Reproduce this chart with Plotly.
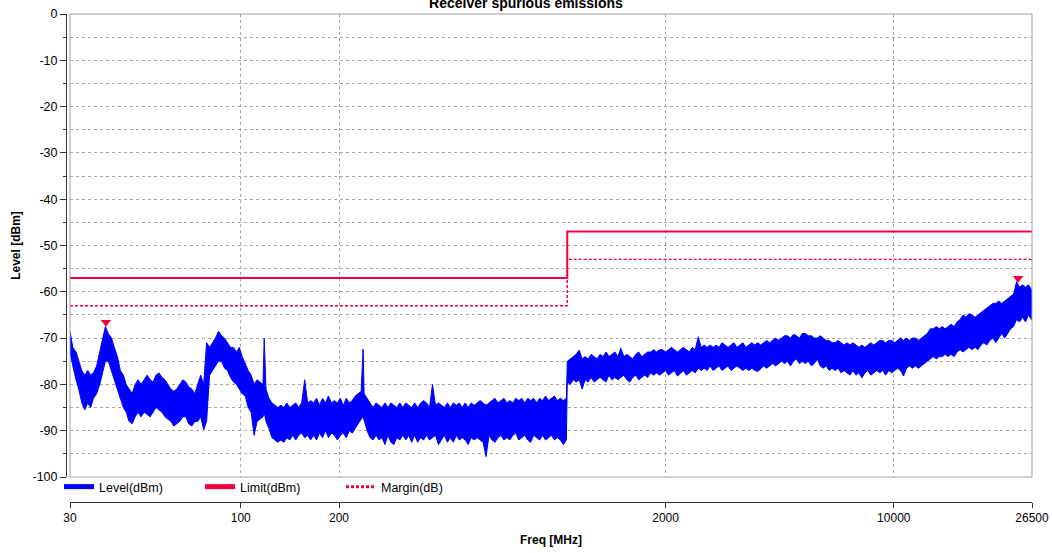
import math
import plotly.graph_objects as go

# ---------------- data ----------------
# Spectrum shown as max / min level per display bin (dBm)
freq_a = [30, 30.6, 31.3, 31.9, 32.6, 33.3, 34, 34.7, 35.4, 36.2,
          37, 37.7, 38.5, 39.3, 40.2, 41, 41.9, 42.8, 43.7, 44.6,
          45.5, 46.5, 47.5, 48.5, 49.5, 50.6, 51.7, 52.8, 53.9, 55,
          56.2, 57.4, 58.6, 59.8, 61.1, 62.4, 63.7, 65.1, 66.5, 67.9,
          69.3, 70.8, 72.3, 73.8, 75.4, 77, 78.6, 80.3, 82, 83.7,
          85.5, 87.3, 89.2, 91.1, 93, 95, 97, 99]
max_a = [-68.5, -72, -73, -75, -77, -78, -77, -78, -77.5, -76,
         -73, -71, -67.5, -69, -70, -72, -74, -77, -78, -80,
         -81, -82, -80, -79, -80, -79, -78, -79, -79.5, -78,
         -77.5, -78.5, -79, -80, -81, -81.5, -81, -80, -79, -79.5,
         -80.5, -81, -82, -80, -78, -80, -71, -72, -71, -70,
         -68.5, -69.5, -70, -71, -72, -72, -73, -72]
min_a = [-73, -76, -79, -81, -84, -85.5, -84, -85, -83, -82,
         -80, -78, -75, -75, -77, -79, -81, -83, -85, -86,
         -88, -88.5, -87, -86, -87, -86, -86.5, -87, -86, -85,
         -85.5, -86, -87, -87.5, -88, -89, -88.5, -88, -87, -87,
         -88.5, -89, -88, -88, -87, -89.8, -88, -78, -77, -76,
         -75, -75, -76.5, -77, -78.5, -79.5, -80, -81]

freq_b = [101, 103.2, 105.4, 107.6, 109.9, 112.2, 114.6, 117, 118, 119.5,
          122, 124.6, 127.3, 130, 132.7, 135.5, 138.4, 141.3, 144.3, 147.4,
          150.5, 153.7, 157, 160.3, 163.7, 167.2, 170.7, 174.3, 178, 181.8,
          185.6, 189.6, 193.6, 197.7, 201.9, 206.2, 210.5, 215, 219.5, 224.2,
          228.9, 233.8, 237, 238.7, 243.8, 249, 254.2, 259.6, 265.1, 270.7,
          276.5, 282.3, 288.3, 294.4, 300.6, 307, 313.5, 320.2, 327, 333.9,
          341, 348.2, 355.6, 363.1, 370.8, 378.6, 386.6, 394.8, 403.2, 411.7,
          420.5, 429.4, 438.5, 447.8, 457.3, 467, 476.9, 487, 497.3, 507.8,
          518.6, 529.6, 540.8, 552.3, 564, 575.9, 588.1, 600.6, 613.3, 626.3,
          639.6, 653.2, 667, 681.2, 695.6, 710.3, 725.4, 740.8, 756.5, 772.5,
          788.9, 805.6, 822.7, 840.1, 857.9, 876.1, 894.7, 913.6, 933, 952.8,
          973, 993.6]
max_b = [-74, -75.5, -77, -78, -80, -79, -79.5, -80, -70, -81,
         -83, -84, -84.5, -85, -84.5, -85, -84, -85, -84.5, -84,
         -85, -84, -79, -84, -83.5, -84, -83, -84.5, -83, -84,
         -82.5, -84, -83.5, -84, -83, -84.5, -83, -84, -83.5, -82.5,
         -82, -81.5, -72.4, -82, -83, -84, -85, -84, -84.5, -85,
         -84, -85, -84, -84.5, -85, -84, -85, -84, -84.5, -85,
         -84, -85, -84, -83.5, -84, -85, -80, -84.5, -84, -84.5,
         -85, -84, -85, -84, -84.5, -84, -85, -84, -85, -84,
         -84.5, -84, -83.5, -84, -84.5, -84, -83.5, -83, -84, -83.5,
         -83, -84, -83.5, -84, -83, -83.5, -83, -84, -83, -83.5,
         -83, -84, -83, -83.5, -82.5, -83.5, -83, -82.5, -83.5, -83,
         -83.5, -83]
min_b = [-82, -82.5, -85, -86, -91, -88, -87.5, -87, -86, -88,
         -89.5, -91.5, -92, -92.5, -92, -92.5, -91.5, -92, -91, -92,
         -91, -90.5, -91.5, -91, -92, -91, -92, -90.5, -91.5, -90,
         -91.5, -90.5, -91, -92, -91, -90.5, -91.5, -90, -90.5, -89.5,
         -88.5, -87.5, -87, -88, -90, -91.5, -92, -91, -92, -91.5,
         -93, -91, -92.5, -93, -91.5, -92, -91, -92, -91, -92.5,
         -91, -92.5, -91.5, -92, -91, -92, -91.5, -91, -93, -92,
         -91, -92.5, -91.5, -92.5, -91, -92, -91.5, -92, -93, -91.5,
         -92, -91.5, -92, -92.5, -95.6, -91, -92, -92.5, -91.5, -91,
         -92, -91.5, -92, -91, -90.5, -92, -91.5, -91, -92, -92.5,
         -91, -91.5, -92, -91, -92, -91.5, -91, -92, -91.5, -92,
         -93, -92]

freq_c = [1000, 1021, 1043, 1065, 1088, 1111, 1134, 1158, 1183, 1208,
          1234, 1260, 1287, 1314, 1342, 1370, 1399, 1429, 1459, 1490,
          1522, 1554, 1587, 1621, 1655, 1690, 1726, 1763, 1800, 1838,
          1877, 1917, 1958, 2000, 2042, 2085, 2130, 2175, 2221, 2268,
          2316, 2365, 2415, 2466, 2519, 2572, 2627, 2682, 2739, 2797,
          2857, 2917, 2979, 3042, 3107, 3173, 3240, 3308, 3379, 3450,
          3523, 3598, 3674, 3752, 3832, 3913, 3996, 4081, 4167, 4256,
          4346, 4438, 4532, 4628, 4726, 4826, 4929]
max_c = [-75, -74.5, -74, -73.5, -72.6, -74.5, -74, -74.5, -73.5, -74,
         -74.5, -73.5, -74, -73, -74, -73.5, -73, -74, -72.2, -74,
         -73.5, -74, -74.5, -73.5, -73, -74, -73.5, -73, -73, -72.5,
         -73, -72.5, -72.5, -73, -72.5, -72, -72.5, -73, -72.5, -72,
         -72.5, -73, -72, -72.5, -69.7, -72, -71.5, -72, -71.5, -72,
         -71.5, -72, -71, -71.5, -72, -71.5, -71, -72, -71.5, -71,
         -72, -71.5, -71, -71.5, -71, -71.5, -71, -70.5, -71, -70.5,
         -70, -70.5, -70, -69.5, -69.5, -70, -69.2]
min_c = [-79.5, -80, -79, -79.5, -79, -81, -79, -79.5, -78.5, -79.5,
         -79, -78.5, -79, -79.5, -78, -79, -78.5, -79, -78.5, -78,
         -79, -79.5, -78.5, -78, -79, -78.5, -78, -78.5, -77.5, -78,
         -77.5, -78, -77.5, -77, -78, -77.5, -77, -78.2, -77.5, -77,
         -78, -77.5, -77, -77.5, -76.5, -77, -76.5, -77, -76, -77,
         -76.5, -76, -77, -76.5, -76, -77, -76.5, -76, -76.5, -77,
         -76.5, -77, -76.5, -77, -77.2, -76.5, -76, -76.5, -76, -75.5,
         -76, -75.5, -75, -75.5, -75, -76, -75]

freq_d = [5033, 5140, 5249, 5360, 5474, 5590, 5709, 5830, 5953, 6079,
          6208, 6340, 6475, 6612, 6752, 6895, 7041, 7190, 7343, 7498,
          7657, 7820, 7986, 8155, 8328, 8504, 8685, 8869, 9057, 9249,
          9445, 9645, 9849, 10058, 10271, 10489, 10711, 10938, 11170, 11407,
          11649, 11896, 12148, 12406, 12669, 12937, 13212, 13492, 13778, 14070,
          14368, 14673, 14984, 15302, 15626, 15957, 16296, 16641, 16994, 17354,
          17722, 18098, 18482, 18874, 19274, 19682, 20100, 20526, 20961, 21405,
          21859, 22323, 22796, 23279, 23773, 24277, 24791, 25317, 25853, 26400,
          26500]
max_d = [-69.5, -70, -69, -69, -69.5, -69.5, -70, -70, -69.5, -70,
         -70.5, -70.5, -71, -71, -70.5, -71, -71.5, -71, -71.5, -71,
         -71.5, -72, -71.5, -72, -71.5, -71, -71.5, -71, -70.5, -70.5,
         -71, -70.5, -70.5, -71, -70.5, -70, -70.5, -70, -70.5, -70,
         -70, -70.5, -70, -69.5, -69, -68, -68, -67.5, -68, -67.5,
         -68, -67.5, -67, -67.5, -66.5, -66, -65, -65.5, -64.7, -65,
         -65.5, -65, -64.5, -64, -63.5, -63, -62.5, -62.5, -62, -62.5,
         -62, -61.5, -61, -60.5, -57.8, -59, -58.5, -59, -58.5, -59.5,
         -60]
min_d = [-74.5, -75.5, -75, -75.5, -75, -76, -75.5, -74.5, -76, -76.5,
         -76, -77, -76.5, -77, -76.5, -77.5, -77, -77.5, -78, -77,
         -78, -77.5, -78.6, -77.5, -77, -78, -77.5, -77, -77.5, -77,
         -78, -77, -77.5, -77, -76.5, -77, -78.2, -76.5, -76, -76.5,
         -76, -76.5, -76, -75.5, -75, -74.5, -74, -74.5, -74, -74,
         -73.5, -74, -73.5, -74, -73, -72.5, -73, -72.5, -72, -72.5,
         -72, -72.5, -71.5, -71, -71.5, -70.5, -70, -71, -70, -69,
         -70, -69, -68, -67.5, -66, -66.5, -65.5, -66.5, -65, -66,
         -66]

limit_freq = [30, 1000, 1000, 26500]
limit_level = [-57, -57, -47, -47]
margin_level = [-63, -63, -53, -53]

peak_freq = [38.65, 24030]
peak_level = [-66.6, -57.1]

legend_names = ["Level(dBm)", "Limit(dBm)", "Margin(dB)"]

x_tick_vals = [30, 100, 200, 2000, 10000, 26500]
x_tick_text = ["30", "100", "200", "2000", "10000", "26500"]
y_tick_vals = [0, -10, -20, -30, -40, -50, -60, -70, -80, -90, -100]
y_tick_text = ["0", "-10", "-20", "-30", "-40", "-50", "-60", "-70", "-80", "-90", "-100"]

for f_list, hi_list, lo_list in ((freq_a, max_a, min_a), (freq_b, max_b, min_b),
                                 (freq_c, max_c, min_c), (freq_d, max_d, min_d)):
    assert len(f_list) == len(hi_list) == len(lo_list), (len(f_list), len(hi_list), len(lo_list))

freq = freq_a + freq_b + freq_c + freq_d
level_max = max_a + max_b + max_c + max_d
level_min = min_a + min_b + min_c + min_d

# ---------------- figure ----------------
BLUE = "#0000FF"
RED = "#F0003C"
GRID = "#A8A8A8"
AXIS = "#333333"
NARROW = "Liberation Sans Narrow, Arial Narrow, Liberation Sans, Arial, sans-serif"
BOLD = "Liberation Sans, Arial, sans-serif"

fig = go.Figure()
# max/min envelope band of the measured level
fig.add_trace(go.Scatter(x=freq + freq[::-1], y=level_max + level_min[::-1],
                         mode="lines", fill="toself", fillcolor=BLUE,
                         line=dict(color=BLUE, width=1),
                         showlegend=False, hoverinfo="skip"))
fig.add_trace(go.Scatter(x=limit_freq, y=limit_level, mode="lines",
                         line=dict(color=RED, width=2),
                         showlegend=False, hoverinfo="skip"))
fig.add_trace(go.Scatter(x=limit_freq, y=margin_level, mode="lines",
                         line=dict(color=RED, width=1.4, dash="3px,2px"),
                         showlegend=False, hoverinfo="skip"))
fig.add_trace(go.Scatter(x=peak_freq, y=peak_level, mode="markers",
                         marker=dict(symbol="triangle-down", size=9, color=RED),
                         showlegend=False, hoverinfo="skip"))

# legend entries
fig.add_trace(go.Scatter(x=[None], y=[None], mode="lines", name=legend_names[0],
                         line=dict(color=BLUE, width=5)))
fig.add_trace(go.Scatter(x=[None], y=[None], mode="lines", name=legend_names[1],
                         line=dict(color=RED, width=5)))
fig.add_trace(go.Scatter(x=[None], y=[None], mode="lines", name=legend_names[2],
                         line=dict(color=RED, width=3, dash="3px,2px")))

W, H = 1052, 553
ML, MR, MT, MB = 66, 20, 14, 51
pw = W - ML - MR
ph = H - MT - MB

fig.update_layout(
    width=W, height=H, autosize=False,
    margin=dict(l=ML, r=MR, t=MT, b=MB, pad=0, autoexpand=False),
    paper_bgcolor="white", plot_bgcolor="white",
    title=dict(text="<b>Receiver spurious emissions</b>", x=0.5, xref="container",
               xanchor="center", y=1 - 8 / H, yref="container", yanchor="bottom",
               font=dict(family=BOLD, size=14, color="black")),
    xaxis=dict(type="log", range=[math.log10(30), math.log10(26500)],
               domain=[4 / pw, 1], anchor="free", position=0,
               tickmode="array", tickvals=x_tick_vals, ticktext=x_tick_text,
               ticks="outside", ticklen=5, tickcolor=AXIS, tickwidth=1,
               showline=True, linecolor=AXIS, linewidth=1,
               showgrid=True, gridcolor=GRID, griddash="3px,3px", gridwidth=1,
               zeroline=False, tickfont=dict(family=NARROW, size=12, color="black"),
               title=dict(text="<b>Freq [MHz]</b>", standoff=11,
                          font=dict(family=BOLD, size=12, color="black"))),
    yaxis=dict(range=[-100, 0], domain=[25 / ph, 1], anchor="free", position=0,
               tickmode="array", tickvals=y_tick_vals, ticktext=y_tick_text,
               ticks="outside", ticklen=6, tickcolor=AXIS, tickwidth=1,
               showline=True, linecolor=AXIS, linewidth=1,
               showgrid=True, gridcolor=GRID, griddash="3px,3px", gridwidth=1,
               zeroline=False, tickfont=dict(family=NARROW, size=12.5, color="black"),
               minor=dict(dtick=5, tick0=0, ticks="outside", ticklen=3, tickcolor=AXIS,
                          showgrid=True, gridcolor=GRID, griddash="3px,3px", gridwidth=1),
               title=dict(text="<b>Level [dBm]</b>", standoff=8,
                          font=dict(family=BOLD, size=12, color="black"))),
    legend=dict(orientation="h", x=-7 / pw, xanchor="left", y=15 / ph, yanchor="middle",
                bgcolor="rgba(0,0,0,0)", borderwidth=0, itemwidth=30,
                entrywidth=96, entrywidthmode="pixels",
                font=dict(family=NARROW, size=12.5, color="black")),
    shapes=[dict(type="rect", xref="x domain", yref="y domain", x0=0, x1=1, y0=0, y1=1,
                 line=dict(color="#A0A0A0", width=1), fillcolor="rgba(0,0,0,0)", layer="above")],
)

# remove the browser's default 8px page margin so the figure fills the window exactly
fig.write_html("out.html", config={"displayModeBar": False},
               post_script="document.body.style.margin='0';")
